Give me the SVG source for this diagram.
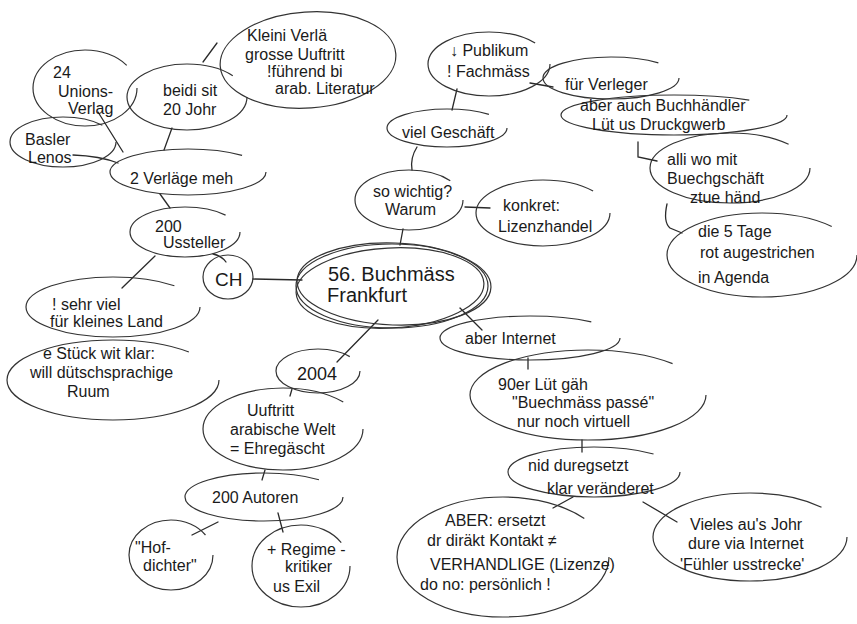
<svg xmlns="http://www.w3.org/2000/svg" width="857" height="624" viewBox="0 0 857 624">
<style>
  .bg { fill: #ffffff; }
  .n ellipse { fill: none; stroke: #333333; stroke-width: 1.2; }
  .n ellipse.o { stroke-dasharray: 91 9; }
  .n text { font-family: "Liberation Sans", "DejaVu Sans", sans-serif; font-size: 16px; fill: #1a1a1a; }
  .c line, .c path { fill: none; stroke: #2a2a2a; stroke-width: 1.3; stroke-linecap: round; }
  .big { font-size: 20px !important; }
</style>
<rect class="bg" x="0" y="0" width="857" height="624"/>

<g id="connectors" class="c">
  <line x1="203" y1="62" x2="217" y2="43"/>
  <line x1="172" y1="128" x2="164" y2="150"/>
  <line x1="98" y1="112" x2="123" y2="152"/>
  <path d="M73 155 Q100 156 118 163"/>
  <line x1="160" y1="194" x2="170" y2="208"/>
  <path d="M213 254 Q222 256 226 262"/>
  <line x1="155" y1="256" x2="122" y2="288"/>
  <line x1="253" y1="279" x2="302" y2="280"/>
  <line x1="403" y1="229" x2="400" y2="245"/>
  <path d="M417 147 Q410 158 412 170"/>
  <line x1="457" y1="89" x2="452" y2="110"/>
  <line x1="465" y1="207" x2="490" y2="208"/>
  <line x1="530" y1="83" x2="553" y2="87"/>
  <path d="M638 142 L638 157 L657 161"/>
  <path d="M667 204 Q663 222 670 228 L682 233"/>
  <line x1="460" y1="308" x2="482" y2="330"/>
  <line x1="528" y1="358" x2="528" y2="369"/>
  <line x1="582" y1="440" x2="582" y2="452"/>
  <line x1="573" y1="497" x2="553" y2="508"/>
  <line x1="643" y1="502" x2="677" y2="522"/>
  <line x1="378" y1="320" x2="337" y2="362"/>
  <line x1="292" y1="389" x2="290" y2="396"/>
  <line x1="265" y1="470" x2="262" y2="480"/>
  <line x1="218" y1="522" x2="192" y2="535"/>
  <line x1="278" y1="513" x2="283" y2="532"/>
</g>

<g id="n-central" class="n">
  <ellipse cx="392" cy="286" rx="96" ry="42"/>
  <ellipse cx="390" cy="288" rx="94" ry="40" transform="rotate(-3 390 288)"/>
  <ellipse cx="394" cy="284" rx="97" ry="41" transform="rotate(2 394 284)"/>
  <text class="big" x="328" y="281">56. Buchmäss</text>
  <text class="big" x="327" y="302">Frankfurt</text>
</g>

<g id="n-kleini" class="n">
  <ellipse cx="308" cy="60" rx="88" ry="48" transform="rotate(-4 308 60)"/>
  <text x="247" y="41">Kleini Verlä</text>
  <text x="245" y="60">grosse Uuftritt</text>
  <text x="267" y="77">!führend bi</text>
  <text x="275" y="94">arab. Literatur</text>
</g>

<g id="n-beidi" class="n">
  <ellipse class="o" pathLength="100" cx="187" cy="97" rx="60" ry="33"/>
  <text x="163" y="96">beidi sit</text>
  <text x="163" y="115">20 Johr</text>
</g>

<g id="n-unions" class="n">
  <ellipse class="o" pathLength="100" cx="85" cy="88" rx="52" ry="38"/>
  <text x="53" y="78">24</text>
  <text x="58" y="97">Unions-</text>
  <text x="68" y="114">Verlag</text>
</g>

<g id="n-basler" class="n">
  <ellipse class="o" pathLength="100" cx="63" cy="142" rx="53" ry="25"/>
  <text x="25" y="145">Basler</text>
  <text x="28" y="163">Lenos</text>
</g>

<g id="n-zwei" class="n">
  <ellipse class="o" pathLength="100" cx="188" cy="172" rx="78" ry="23"/>
  <text x="130" y="184">2 Verläge meh</text>
</g>

<g id="n-ussteller" class="n">
  <ellipse class="o" pathLength="100" cx="185" cy="232" rx="55" ry="25"/>
  <text x="155" y="232">200</text>
  <text x="163" y="248">Ussteller</text>
</g>

<g id="n-ch" class="n">
  <ellipse cx="228" cy="277" rx="25" ry="22"/>
  <text x="215" y="286" style="font-size:19px">CH</text>
</g>

<g id="n-sehrviel" class="n">
  <ellipse class="o" pathLength="100" cx="113" cy="307" rx="87" ry="30"/>
  <text x="52" y="310">! sehr viel</text>
  <text x="50" y="327">für kleines Land</text>
</g>

<g id="n-stueck" class="n">
  <ellipse class="o" pathLength="100" cx="113" cy="380" rx="106" ry="40"/>
  <text x="43" y="359">e Stück wit klar:</text>
  <text x="30" y="378">will dütschsprachige</text>
  <text x="67" y="397">Ruum</text>
</g>

<g id="n-wichtig" class="n">
  <ellipse class="o" pathLength="100" cx="409" cy="200" rx="54" ry="30"/>
  <text x="373" y="197">so wichtig?</text>
  <text x="385" y="215">Warum</text>
</g>

<g id="n-geschaeft" class="n">
  <ellipse class="o" pathLength="100" cx="447" cy="128" rx="60" ry="19"/>
  <text x="402" y="138">viel Geschäft</text>
</g>

<g id="n-publikum" class="n">
  <ellipse class="o" pathLength="100" cx="489" cy="64" rx="61" ry="32"/>
  <text x="450" y="56">↓ Publikum</text>
  <text x="447" y="77">! Fachmäss</text>
</g>

<g id="n-konkret" class="n">
  <ellipse class="o" pathLength="100" cx="543" cy="213" rx="67" ry="33"/>
  <text x="503" y="211">konkret:</text>
  <text x="498" y="232">Lizenzhandel</text>
</g>

<g id="n-verleger" class="n">
  <ellipse class="o" pathLength="100" cx="611" cy="78" rx="68" ry="21"/>
  <text x="565" y="90">für Verleger</text>
</g>

<g id="n-buchhaendler" class="n">
  <ellipse class="o" pathLength="100" cx="674" cy="115" rx="113" ry="20"/>
  <text x="580" y="111">aber auch Buchhändler</text>
  <text x="592" y="130">Lüt us Druckgwerb</text>
</g>

<g id="n-alli" class="n">
  <ellipse class="o" pathLength="100" cx="730" cy="168" rx="80" ry="35"/>
  <text x="667" y="165">alli wo mit</text>
  <text x="667" y="184">Buechgschäft</text>
  <text x="690" y="203">ztue händ</text>
</g>

<g id="n-tage" class="n">
  <ellipse class="o" pathLength="100" cx="762" cy="255" rx="95" ry="42"/>
  <text x="698" y="237">die 5 Tage</text>
  <text x="700" y="258">rot augestrichen</text>
  <text x="698" y="283">in Agenda</text>
</g>

<g id="n-internet" class="n">
  <ellipse class="o" pathLength="100" cx="530" cy="338" rx="90" ry="22"/>
  <text x="465" y="344">aber Internet</text>
</g>

<g id="n-90er" class="n">
  <ellipse class="o" pathLength="100" cx="588" cy="395" rx="118" ry="45"/>
  <text x="498" y="390">90er Lüt gäh</text>
  <text x="512" y="408">"Buechmäss passé"</text>
  <text x="517" y="427">nur noch virtuell</text>
</g>

<g id="n-nid" class="n">
  <ellipse class="o" pathLength="100" cx="594" cy="472" rx="86" ry="25"/>
  <text x="528" y="471">nid duregsetzt</text>
  <text x="547" y="494">klar veränderet</text>
</g>

<g id="n-aber" class="n">
  <ellipse class="o" pathLength="100" cx="503" cy="557" rx="106" ry="60"/>
  <text x="445" y="526">ABER: ersetzt</text>
  <text x="427" y="546">dr diräkt Kontakt ≠</text>
  <text x="430" y="570">VERHANDLIGE (Lizenze)</text>
  <text x="420" y="590">do no: persönlich !</text>
</g>

<g id="n-vieles" class="n">
  <ellipse class="o" pathLength="100" cx="750" cy="537" rx="97" ry="44"/>
  <text x="690" y="530">Vieles au's Johr</text>
  <text x="688" y="549">dure via Internet</text>
  <text x="680" y="570">'Fühler usstrecke'</text>
</g>

<g id="n-2004" class="n">
  <ellipse class="o" pathLength="100" cx="318" cy="371" rx="42" ry="22"/>
  <text x="297" y="380" style="font-size:18px">2004</text>
</g>

<g id="n-uuftritt" class="n">
  <ellipse class="o" pathLength="100" cx="283" cy="429" rx="80" ry="41"/>
  <text x="247" y="416">Uuftritt</text>
  <text x="230" y="435">arabische Welt</text>
  <text x="230" y="454">= Ehregäscht</text>
</g>

<g id="n-autoren" class="n">
  <ellipse class="o" pathLength="100" cx="264" cy="497" rx="79" ry="24"/>
  <text x="212" y="503">200 Autoren</text>
</g>

<g id="n-hof" class="n">
  <ellipse class="o" pathLength="100" cx="171" cy="555" rx="42" ry="35"/>
  <text x="135" y="553">"Hof-</text>
  <text x="143" y="571">dichter"</text>
</g>

<g id="n-regime" class="n">
  <ellipse class="o" pathLength="100" cx="301" cy="566" rx="49" ry="41"/>
  <text x="267" y="555">+ Regime -</text>
  <text x="285" y="572">kritiker</text>
  <text x="273" y="592">us Exil</text>
</g>
</svg>
